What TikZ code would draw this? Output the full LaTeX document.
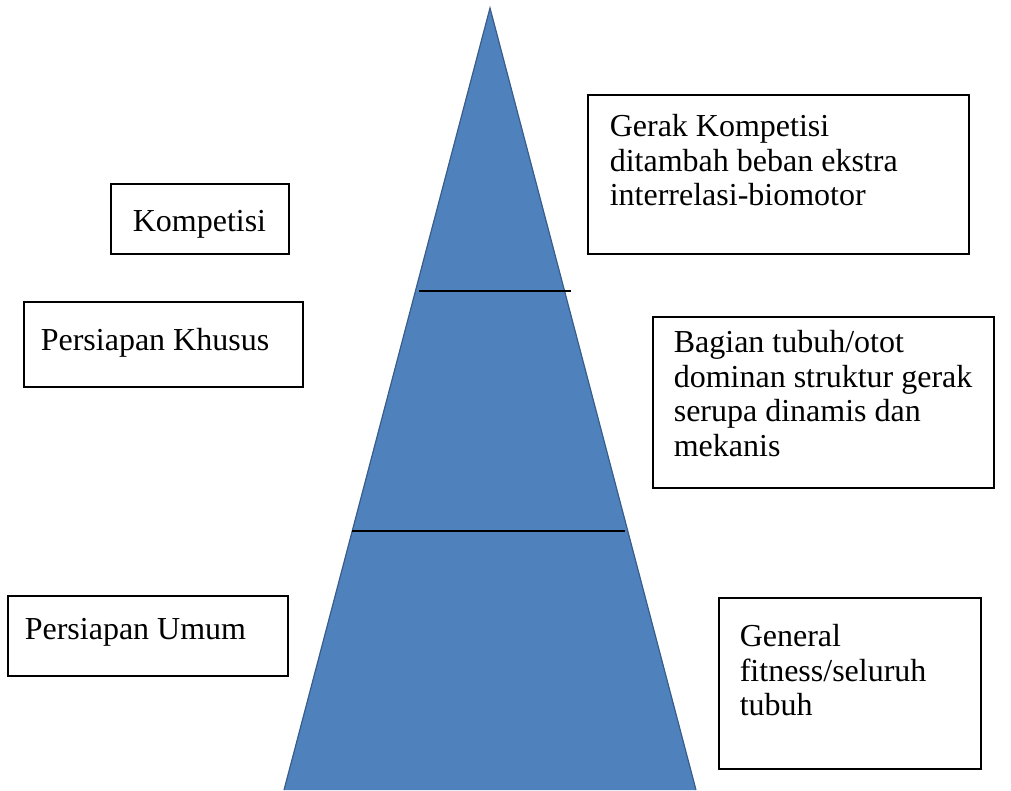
\documentclass[tikz,border=0pt]{standalone}
\usepackage{fontspec}
\setmainfont{Liberation Serif}
\definecolor{pyrblue}{HTML}{4F81BD}
\definecolor{pyredge}{HTML}{385D8A}
\newcommand{\boxtext}[5]{\parbox[c][#2][t]{#1}{\raggedright\leftskip=#3\relax\rule{0pt}{#4}#5}}
\tikzset{
  pyr/.style={fill=pyrblue, draw=pyredge, line width=1.2pt},
  sepline/.style={draw=black, line width=2pt},
  tbox/.style={draw=black, line width=1.6pt, inner sep=0pt, anchor=north west,
    font=\fontsize{32pt}{34.5pt}\selectfont},
}
\begin{document}
\begin{tikzpicture}[x=1pt, y=-1pt]
\useasboundingbox (0,0) rectangle (1011,790);
% pyramid
\coordinate (apex) at (490,8);
\coordinate (bl) at (284,790);
\coordinate (br) at (696,790);
\fill[pyrblue] (apex) -- (bl) -- (br) -- cycle;
\draw[pyredge, line width=1.2pt] (bl) -- (apex) -- (br);
\draw[sepline] (419,291) -- (571,291);
\draw[sepline] (352,531) -- (625,531);
% left boxes
\node[tbox] (komp) at (110,183) {\boxtext{178pt}{70pt}{22pt}{48pt}{Kompetisi}};
\node[tbox] (khusus) at (23,301) {\boxtext{279pt}{85pt}{17pt}{49pt}{Persiapan Khusus}};
\node[tbox] (umum) at (7,595) {\boxtext{280pt}{80pt}{17pt}{44pt}{Persiapan Umum}};
% right boxes
\node[tbox] (gerak) at (587,94) {\boxtext{381pt}{159pt}{22pt}{42pt}{Gerak Kompetisi\\ditambah beban ekstra\\interrelasi-biomotor}};
\node[tbox] (bagian) at (652,316) {\boxtext{341pt}{171pt}{21pt}{36pt}{Bagian tubuh/otot\\dominan struktur gerak\\serupa dinamis dan\\mekanis}};
\node[tbox] (general) at (718,597) {\boxtext{262pt}{171pt}{21pt}{49pt}{General\\fitness/seluruh\\tubuh}};
\end{tikzpicture}
\end{document}
